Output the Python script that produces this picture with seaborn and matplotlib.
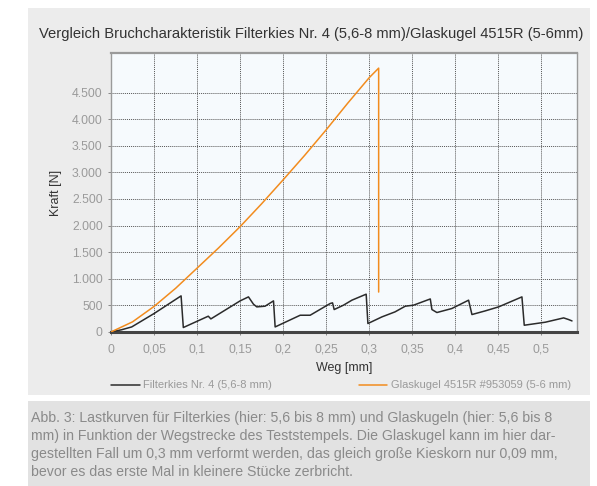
import numpy as np
import pandas as pd
import matplotlib
matplotlib.use("Agg")
import matplotlib.pyplot as plt
from matplotlib.patches import Rectangle
from matplotlib.lines import Line2D
from matplotlib.ticker import FuncFormatter, MultipleLocator
import seaborn as sns

# Glaskugel 4515R: Weg [mm] / Kraft [N]
glas_weg = [0, 0.025, 0.05, 0.075, 0.1, 0.125, 0.15, 0.175, 0.2, 0.225,
            0.25, 0.275, 0.3, 0.311, 0.311]
glas_kraft = [0, 190, 480, 820, 1200, 1580, 1980, 2410, 2860, 3320,
              3800, 4300, 4780, 4960, 750]

# Filterkies Nr. 4
kies_weg = [0, 0.012, 0.024, 0.05, 0.0814, 0.084, 0.113, 0.116, 0.15, 0.1597,
            0.1655, 0.1694, 0.179, 0.1888, 0.1907, 0.2198, 0.2314, 0.2547,
            0.2574, 0.2593, 0.2701, 0.2799, 0.2965, 0.2985, 0.3148, 0.330,
            0.3419, 0.3515, 0.371, 0.3729, 0.3787, 0.396, 0.4155, 0.4194,
            0.4349, 0.4504, 0.4775, 0.4802, 0.5047, 0.526, 0.5317, 0.5357]
kies_kraft = [0, 40, 94, 346, 678, 83, 296, 245, 584, 659,
              522, 471, 484, 584, 94, 314, 314, 535,
              547, 421, 503, 597, 710, 158, 283, 377,
              484, 503, 620, 421, 365, 440, 597, 327,
              396, 471, 659, 126, 183, 264, 233, 207]

titel = "Vergleich Bruchcharakteristik Filterkies Nr. 4 (5,6-8 mm)/Glaskugel 4515R (5-6mm)"
label_kies = "Filterkies Nr. 4 (5,6-8 mm)"
label_glas = "Glaskugel 4515R #953059 (5-6 mm)"
caption = ("Abb. 3: Lastkurven für Filterkies (hier: 5,6 bis 8 mm) und Glaskugeln (hier: 5,6 bis 8\n"
           "mm) in Funktion der Wegstrecke des Teststempels. Die Glaskugel kann im hier dar-\n"
           "gestellten Fall um 0,3 mm verformt werden, das gleich große Kieskorn nur 0,09 mm,\n"
           "bevor es das erste Mal in kleinere Stücke zerbricht.")

ORANGE = "#f28c1e"
BLACK = "#2b2b2b"
GRAY_TXT = "#9a9a9a"

sns.set_style("white")
plt.rcParams["font.family"] = ["Liberation Sans", "DejaVu Sans"]

fig = plt.figure(figsize=(5.97, 4.86), dpi=100)
fig.patch.set_facecolor("white")
# grauer Hintergrund fuer Diagramm und Bildunterschrift
fig.patches.append(Rectangle((0.047, 0.187), 0.941, 0.797, transform=fig.transFigure,
                             facecolor="#ececec", edgecolor="none", zorder=-10))
fig.patches.append(Rectangle((0.047, 0.0), 0.941, 0.175, transform=fig.transFigure,
                             facecolor="#e2e2e2", edgecolor="none", zorder=-10))

ax = fig.add_axes([0.186, 0.317, 0.7805, 0.574])
ax.set_facecolor("#f6fafd")

kies = pd.DataFrame({"weg": kies_weg, "kraft": kies_kraft})
glas = pd.DataFrame({"weg": glas_weg, "kraft": glas_kraft})
sns.lineplot(data=kies, x="weg", y="kraft", sort=False, estimator=None,
             color=BLACK, linewidth=1.1, ax=ax, zorder=3)
sns.lineplot(data=glas, x="weg", y="kraft", sort=False, estimator=None,
             color=ORANGE, linewidth=1.1, ax=ax, zorder=4)

ax.set_xlim(0, 0.5415)
ax.set_ylim(0, 5245)
ax.set_xticks(np.arange(0, 0.5001, 0.05))
ax.set_yticks(np.arange(0, 4501, 500))
ax.xaxis.set_minor_locator(MultipleLocator(0.01))
ax.yaxis.set_minor_locator(MultipleLocator(100))


def fmt_x(v, pos):
    s = f"{v:.2f}".rstrip("0").rstrip(".")
    return s.replace(".", ",")


def fmt_y(v, pos):
    return f"{int(round(v)):,}".replace(",", ".")


ax.xaxis.set_major_formatter(FuncFormatter(fmt_x))
ax.yaxis.set_major_formatter(FuncFormatter(fmt_y))

ax.grid(True, which="major", color="#555555", linestyle=(0, (1, 1)), linewidth=0.7)
ax.tick_params(axis="both", which="both", direction="out", colors="#777777",
               labelcolor=GRAY_TXT, labelsize=8.8)
ax.tick_params(axis="x", which="both", length=2.5, width=0.6, pad=6)
ax.tick_params(axis="y", which="both", length=2, width=0.6, pad=4)
ax.tick_params(left=True, bottom=True)

for side in ["left", "right", "top"]:
    ax.spines[side].set_color("#9a9a9a")
    ax.spines[side].set_linewidth(1.0)
ax.spines["top"].set_linewidth(1.6)
ax.spines["bottom"].set_color("#444444")
ax.spines["bottom"].set_linewidth(2.2)

ax.set_xlabel("")
ax.set_ylabel("Kraft [N]", fontsize=9, color="#333333", labelpad=7)
fig.text(0.577, 0.242, "Weg [mm]", ha="center", va="center", fontsize=9, color="#333333")
fig.text(0.521, 0.93, titel, ha="center", va="center", fontsize=10.6, color="#333333")

handles = [Line2D([], [], color=BLACK, linewidth=1.1),
           Line2D([], [], color=ORANGE, linewidth=1.1)]
fig.legend(handles, [label_kies, label_glas], loc="center", bbox_to_anchor=(0.571, 0.207),
           ncol=2, frameon=False, fontsize=8, labelcolor=GRAY_TXT,
           handlelength=2.6, handletextpad=0.3, columnspacing=7.8)

fig.text(0.052, 0.084, caption, ha="left", va="center", fontsize=10.2,
         color="#8a8a8a", linespacing=1.38)

fig.savefig("out.png", dpi=100)
